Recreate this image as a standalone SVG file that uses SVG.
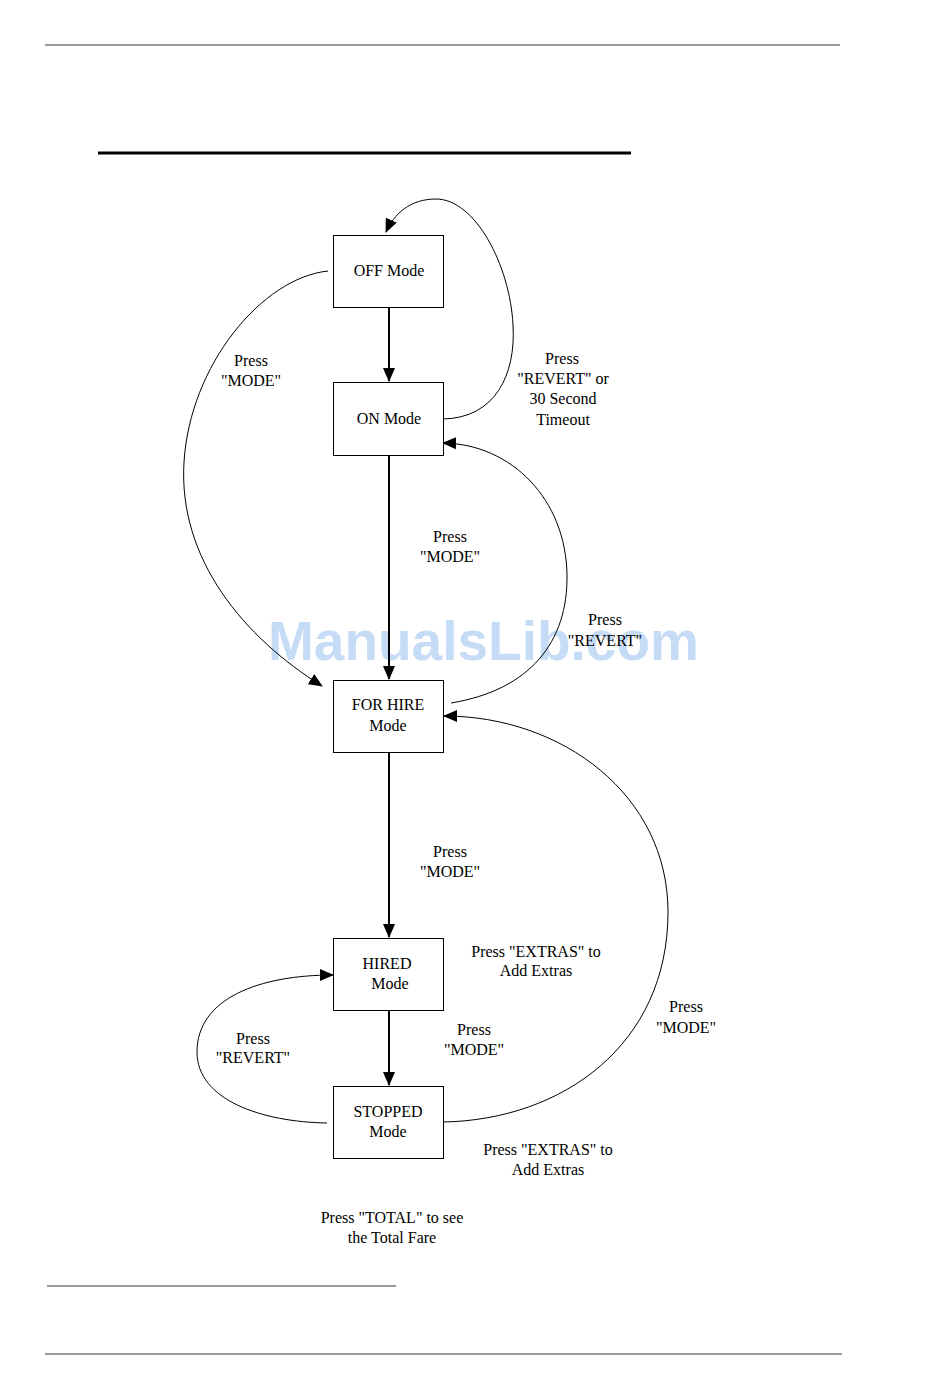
<svg xmlns="http://www.w3.org/2000/svg" width="950" height="1388" viewBox="0 0 950 1388">
<defs>
<style>
.box{fill:#fff;stroke:#000;stroke-width:1}
.t{font-family:"Liberation Serif","Times New Roman",serif;font-size:16px;fill:#000;text-anchor:middle}
.main{stroke:#000;stroke-width:2;fill:none}
.curve{stroke:#000;stroke-width:1;fill:none}
.rule{stroke:#777;stroke-width:1.5}
.wm{font-family:"Liberation Sans",Arial,sans-serif;font-weight:bold;font-size:55px;fill:#c6dcf6}
</style>
<marker id="ah" markerUnits="userSpaceOnUse" markerWidth="14" markerHeight="14" viewBox="0 0 14 14" refX="13" refY="7" orient="auto">
<path d="M0,1 L14,7 L0,13 Z" fill="#000"/>
</marker>
</defs>
<rect width="950" height="1388" fill="#fff"/>
<line class="rule" x1="45" y1="45" x2="840" y2="45"/>
<line x1="98" y1="153" x2="631" y2="153" stroke="#000" stroke-width="3"/>
<line class="rule" x1="47" y1="1286" x2="396" y2="1286"/>
<line class="rule" x1="45" y1="1354" x2="842" y2="1354"/>
<text class="wm" x="268" y="660">ManualsLib.com</text>
<g id="connectors">
<line class="main" x1="389" y1="307" x2="389" y2="381" marker-end="url(#ah)"/>
<line class="main" x1="389" y1="455" x2="389" y2="679" marker-end="url(#ah)"/>
<line class="main" x1="389" y1="752" x2="389" y2="937" marker-end="url(#ah)"/>
<line class="main" x1="389" y1="1010" x2="389" y2="1085" marker-end="url(#ah)"/>
<path class="curve" d="M443,419 C495,418 516,375 513,325 C510,265 475,199 436,199 C410,199 394,214 386,232" marker-end="url(#ah)"/>
<path class="curve" d="M328,271 C262,278 190,365 184,462 C178,560 245,638 322,686" marker-end="url(#ah)"/>
<path class="curve" d="M451,703 C530,690 568,642 567,575 C566,500 512,444 443,443" marker-end="url(#ah)"/>
<path class="curve" d="M443,1122 C562,1120 668,1045 668,912 C668,795 562,716 444,716" marker-end="url(#ah)"/>
<path class="curve" d="M327,1123 C262,1122 197,1100 197,1052 C197,998 260,975 333,975" marker-end="url(#ah)"/>
</g>
<g id="off"><rect class="box" x="333.5" y="235.5" width="110" height="72"/><text class="t" x="389" y="276">OFF Mode</text></g>
<g id="on"><rect class="box" x="333.5" y="382.5" width="110" height="73"/><text class="t" x="389" y="424">ON Mode</text></g>
<g id="forhire"><rect class="box" x="333.5" y="680.5" width="110" height="72"/><text class="t" x="388" y="710">FOR HIRE</text><text class="t" x="388" y="731">Mode</text></g>
<g id="hired"><rect class="box" x="333.5" y="938.5" width="110" height="72"/><text class="t" x="387" y="969">HIRED</text><text class="t" x="390" y="989">Mode</text></g>
<g id="stopped"><rect class="box" x="333.5" y="1086.5" width="110" height="72"/><text class="t" x="388" y="1117">STOPPED</text><text class="t" x="388" y="1137">Mode</text></g>
<g id="labels">
<text class="t" x="251" y="366">Press</text><text class="t" x="251" y="386">"MODE"</text>
<text class="t" x="562" y="364">Press</text><text class="t" x="563" y="384">"REVERT" or</text><text class="t" x="563" y="404">30 Second</text><text class="t" x="563" y="425">Timeout</text>
<text class="t" x="450" y="542">Press</text><text class="t" x="450" y="562">"MODE"</text>
<text class="t" x="605" y="625">Press</text><text class="t" x="605" y="646">"REVERT"</text>
<text class="t" x="450" y="857">Press</text><text class="t" x="450" y="877">"MODE"</text>
<text class="t" x="536" y="957">Press "EXTRAS" to</text><text class="t" x="536" y="976">Add Extras</text>
<text class="t" x="686" y="1012">Press</text><text class="t" x="686" y="1033">"MODE"</text>
<text class="t" x="474" y="1035">Press</text><text class="t" x="474" y="1055">"MODE"</text>
<text class="t" x="253" y="1044">Press</text><text class="t" x="253" y="1063">"REVERT"</text>
<text class="t" x="548" y="1155">Press "EXTRAS" to</text><text class="t" x="548" y="1175">Add Extras</text>
<text class="t" x="392" y="1223">Press "TOTAL" to see</text><text class="t" x="392" y="1243">the Total Fare</text>
</g>
</svg>
